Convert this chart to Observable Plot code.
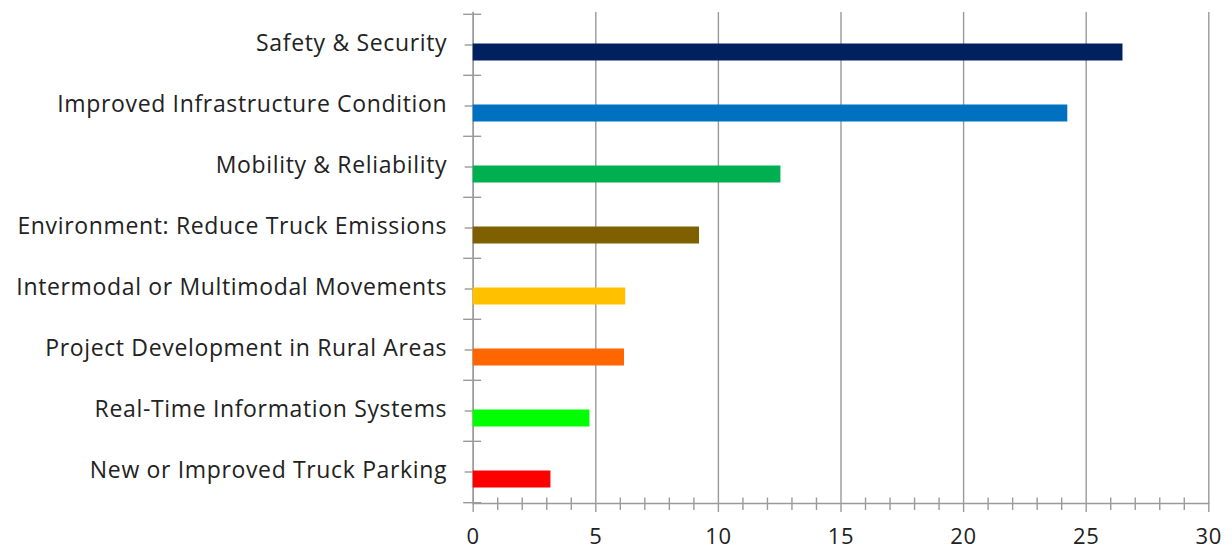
<!DOCTYPE html>
<html>
<head>
<meta charset="utf-8">
<script src="https://cdn.jsdelivr.net/npm/d3@7"></script>
<script src="https://cdn.jsdelivr.net/npm/@observablehq/plot@0.6"></script>
<style>
  html, body { margin: 0; padding: 0; background: #fff; }
</style>
</head>
<body>
<div id="chart"></div>
<script>
const categories = [
  "Safety & Security",
  "Improved Infrastructure Condition",
  "Mobility & Reliability",
  "Environment: Reduce Truck Emissions",
  "Intermodal or Multimodal Movements",
  "Project Development in Rural Areas",
  "Real-Time Information Systems",
  "New or Improved Truck Parking"
];
const values = [26.5, 24.25, 12.55, 9.23, 6.22, 6.17, 4.76, 3.17];
const colors = ["#002060", "#0070C0", "#00B050", "#7F6000", "#FFC000", "#FF6600", "#00FF00", "#FF0000"];
const majorTicks = [0, 5, 10, 15, 20, 25, 30];
const minorTicks = d3.range(0, 31).filter(d => d % 5 !== 0);

const data = categories.map((c, i) => ({category: c, value: values[i], color: colors[i]}));

const W = 1232, H = 550;
const mTop = 12, mBottom = 47, mLeft = 472.7, mRight = 23.7;
const plotH = H - mTop - mBottom;
const bw = plotH / categories.length;
const axisColor = "#9a9a9a";
const font = "'Open Sans', sans-serif";

const chart = Plot.plot({
  width: W,
  height: H,
  marginTop: mTop,
  marginBottom: mBottom,
  marginLeft: mLeft,
  marginRight: mRight,
  style: {fontFamily: font, fontSize: "23px", letterSpacing: "0.65px", color: "#222", background: "#fff"},
  x: {domain: [0, 30]},
  y: {domain: categories, padding: 0},
  color: {type: "identity"},
  marks: [
    Plot.ruleX(majorTicks, {stroke: axisColor, strokeWidth: 1.4, insetBottom: -9}),
    Plot.ruleX(minorTicks, {stroke: axisColor, strokeWidth: 1.4, insetTop: plotH - 5.5, insetBottom: -7}),
    Plot.frame({anchor: "bottom", stroke: axisColor, strokeWidth: 1.4}),
    Plot.frame({anchor: "left", stroke: axisColor, strokeWidth: 1.4}),
    Plot.ruleY(categories, {y: d => d, x1: 0, x2: 0, insetLeft: -9.5, insetRight: -8.5, dy: -bw / 2, stroke: axisColor, strokeWidth: 1.4}),
    Plot.ruleY(categories.slice(-1), {y: d => d, x1: 0, x2: 0, insetLeft: -9.5, insetRight: -8.5, dy: bw / 2, stroke: axisColor, strokeWidth: 1.4}),
    Plot.ruleY(categories, {y: d => d, x1: 0, x2: 0, insetLeft: -8, insetRight: -8, stroke: axisColor, strokeWidth: 1.4}),
    Plot.barX(data, {x: "value", y: "category", fill: "color", insetTop: 29.5, insetBottom: 14.5}),
    Plot.axisY({tickSize: 0, tickPadding: 26, label: null, fontSize: 23, dy: -1.5}),
    Plot.axisX({ticks: majorTicks, tickSize: 0, tickPadding: 25, label: null, fontSize: 22})
  ]
});
document.getElementById("chart").appendChild(chart);
</script>
</body>
</html>
